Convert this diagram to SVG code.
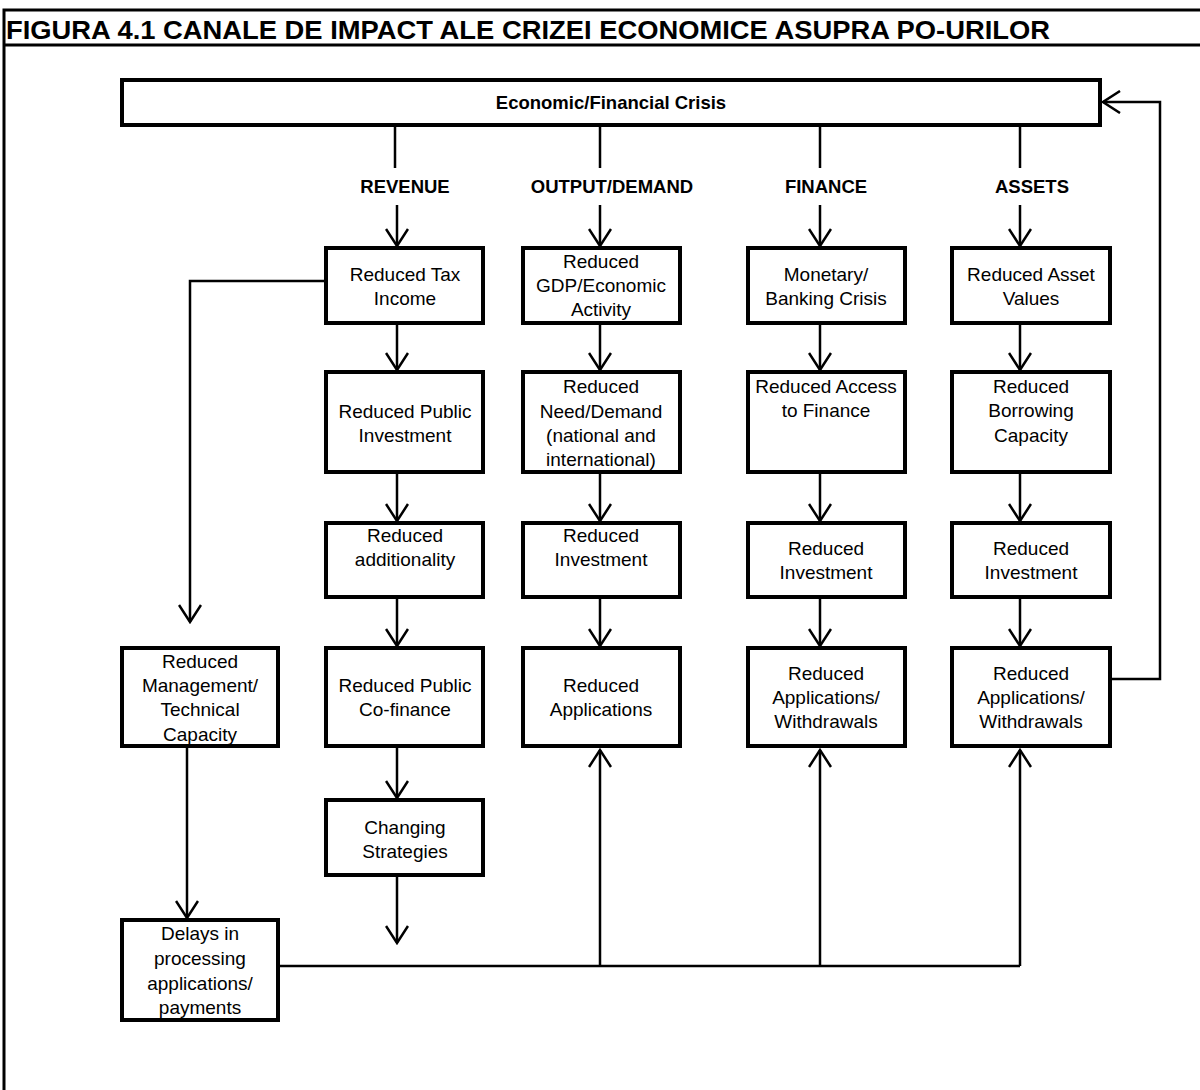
<svg xmlns="http://www.w3.org/2000/svg" width="1200" height="1090" viewBox="0 0 1200 1090">
<style>
.box{fill:#fff;stroke:#000;stroke-width:4}
.t{font-family:"Liberation Sans",Arial,sans-serif;font-size:19px;fill:#000;text-anchor:middle}
.b{font-family:"Liberation Sans",Arial,sans-serif;font-size:18.5px;font-weight:bold;fill:#000;text-anchor:middle}
.c{fill:none;stroke:#000;stroke-width:2.5}
.f{fill:none;stroke:#000;stroke-width:3}
</style>
<defs>
<marker id="ah" viewBox="0 0 20 24" refX="18" refY="12" markerWidth="20" markerHeight="24" markerUnits="userSpaceOnUse" orient="auto">
<path d="M1,1 L18,12 L1,23" fill="none" stroke="#000" stroke-width="2.5"/>
</marker>
</defs>
<rect width="1200" height="1090" fill="#fff"/>
<g id="frame">
<path class="f" d="M4,1090 V10 H1200 M4,45 H1200"/>
<text x="6" y="38.5" font-family="'Liberation Sans',Arial,sans-serif" font-size="25.5" font-weight="bold" textLength="1044" lengthAdjust="spacingAndGlyphs">FIGURA 4.1 CANALE DE IMPACT ALE CRIZEI ECONOMICE ASUPRA PO-URILOR</text>
</g>
<g id="connectors">
<path class="c" d="M395,125 V168 M600,125 V168 M820,125 V168 M1020,125 V168"/>
<path class="c" marker-end="url(#ah)" d="M397,205 V246"/>
<path class="c" marker-end="url(#ah)" d="M600,205 V246"/>
<path class="c" marker-end="url(#ah)" d="M820,205 V246"/>
<path class="c" marker-end="url(#ah)" d="M1020,205 V246"/>
<path class="c" marker-end="url(#ah)" d="M397,325 V370"/>
<path class="c" marker-end="url(#ah)" d="M600,325 V370"/>
<path class="c" marker-end="url(#ah)" d="M820,325 V370"/>
<path class="c" marker-end="url(#ah)" d="M1020,325 V370"/>
<path class="c" marker-end="url(#ah)" d="M397,474 V521"/>
<path class="c" marker-end="url(#ah)" d="M600,474 V521"/>
<path class="c" marker-end="url(#ah)" d="M820,474 V521"/>
<path class="c" marker-end="url(#ah)" d="M1020,474 V521"/>
<path class="c" marker-end="url(#ah)" d="M397,599 V646"/>
<path class="c" marker-end="url(#ah)" d="M600,599 V646"/>
<path class="c" marker-end="url(#ah)" d="M820,599 V646"/>
<path class="c" marker-end="url(#ah)" d="M1020,599 V646"/>
<path class="c" marker-end="url(#ah)" d="M397,748 V798"/>
<path class="c" marker-end="url(#ah)" d="M397,876 V943"/>
<path class="c" marker-end="url(#ah)" d="M324,281 H190 V622"/>
<path class="c" marker-end="url(#ah)" d="M187,748 V918"/>
<path class="c" d="M280,966 H1020"/>
<path class="c" marker-end="url(#ah)" d="M600,966 V750"/>
<path class="c" marker-end="url(#ah)" d="M820,966 V750"/>
<path class="c" marker-end="url(#ah)" d="M1020,966 V750"/>
<path class="c" marker-end="url(#ah)" d="M1112,679 H1160 V102 H1103"/>
</g>
<g id="crisis"><rect class="box" x="122" y="80" width="978" height="45"/><text class="b" x="611" y="109">Economic/Financial Crisis</text></g>
<g id="lbl-revenue"><text class="b" x="405" y="193">REVENUE</text></g>
<g id="lbl-output"><text class="b" x="612" y="193">OUTPUT/DEMAND</text></g>
<g id="lbl-finance"><text class="b" x="826" y="193">FINANCE</text></g>
<g id="lbl-assets"><text class="b" x="1032" y="193">ASSETS</text></g>

<g id="tax"><rect class="box" x="326" y="248" width="157" height="75"/><text class="t"><tspan x="405" y="281">Reduced Tax</tspan><tspan x="405" y="305">Income</tspan></text></g>
<g id="gdp"><rect class="box" x="523" y="248" width="157" height="75"/><text class="t"><tspan x="601" y="268">Reduced</tspan><tspan x="601" y="292">GDP/Economic</tspan><tspan x="601" y="316">Activity</tspan></text></g>
<g id="monetary"><rect class="box" x="748" y="248" width="157" height="75"/><text class="t"><tspan x="826" y="281">Monetary/</tspan><tspan x="826" y="305">Banking Crisis</tspan></text></g>
<g id="assetvalues"><rect class="box" x="952" y="248" width="158" height="75"/><text class="t"><tspan x="1031" y="281">Reduced Asset</tspan><tspan x="1031" y="305">Values</tspan></text></g>

<g id="pubinv"><rect class="box" x="326" y="372" width="157" height="100"/><text class="t"><tspan x="405" y="418">Reduced Public</tspan><tspan x="405" y="442">Investment</tspan></text></g>
<g id="need"><rect class="box" x="523" y="372" width="157" height="100"/><text class="t"><tspan x="601" y="393">Reduced</tspan><tspan x="601" y="418">Need/Demand</tspan><tspan x="601" y="442">(national and</tspan><tspan x="601" y="466">international)</tspan></text></g>
<g id="access"><rect class="box" x="748" y="372" width="157" height="100"/><text class="t"><tspan x="826" y="393">Reduced Access</tspan><tspan x="826" y="417">to Finance</tspan></text></g>
<g id="borrow"><rect class="box" x="952" y="372" width="158" height="100"/><text class="t"><tspan x="1031" y="393">Reduced</tspan><tspan x="1031" y="417">Borrowing</tspan><tspan x="1031" y="442">Capacity</tspan></text></g>

<g id="additionality"><rect class="box" x="326" y="523" width="157" height="74"/><text class="t"><tspan x="405" y="542">Reduced</tspan><tspan x="405" y="566">additionality</tspan></text></g>
<g id="inv-output"><rect class="box" x="523" y="523" width="157" height="74"/><text class="t"><tspan x="601" y="542">Reduced</tspan><tspan x="601" y="566">Investment</tspan></text></g>
<g id="inv-finance"><rect class="box" x="748" y="523" width="157" height="74"/><text class="t"><tspan x="826" y="555">Reduced</tspan><tspan x="826" y="579">Investment</tspan></text></g>
<g id="inv-assets"><rect class="box" x="952" y="523" width="158" height="74"/><text class="t"><tspan x="1031" y="555">Reduced</tspan><tspan x="1031" y="579">Investment</tspan></text></g>

<g id="management"><rect class="box" x="122" y="648" width="156" height="98"/><text class="t"><tspan x="200" y="668">Reduced</tspan><tspan x="200" y="692">Management/</tspan><tspan x="200" y="716">Technical</tspan><tspan x="200" y="741">Capacity</tspan></text></g>
<g id="cofinance"><rect class="box" x="326" y="648" width="157" height="98"/><text class="t"><tspan x="405" y="692">Reduced Public</tspan><tspan x="405" y="716">Co-finance</tspan></text></g>
<g id="applications"><rect class="box" x="523" y="648" width="157" height="98"/><text class="t"><tspan x="601" y="692">Reduced</tspan><tspan x="601" y="716">Applications</tspan></text></g>
<g id="withdrawals-finance"><rect class="box" x="748" y="648" width="157" height="98"/><text class="t"><tspan x="826" y="680">Reduced</tspan><tspan x="826" y="704">Applications/</tspan><tspan x="826" y="728">Withdrawals</tspan></text></g>
<g id="withdrawals-assets"><rect class="box" x="952" y="648" width="158" height="98"/><text class="t"><tspan x="1031" y="680">Reduced</tspan><tspan x="1031" y="704">Applications/</tspan><tspan x="1031" y="728">Withdrawals</tspan></text></g>

<g id="strategies"><rect class="box" x="326" y="800" width="157" height="75"/><text class="t"><tspan x="405" y="834">Changing</tspan><tspan x="405" y="858">Strategies</tspan></text></g>
<g id="delays"><rect class="box" x="122" y="920" width="156" height="100"/><text class="t"><tspan x="200" y="940">Delays in</tspan><tspan x="200" y="965">processing</tspan><tspan x="200" y="990">applications/</tspan><tspan x="200" y="1014">payments</tspan></text></g>
</svg>
